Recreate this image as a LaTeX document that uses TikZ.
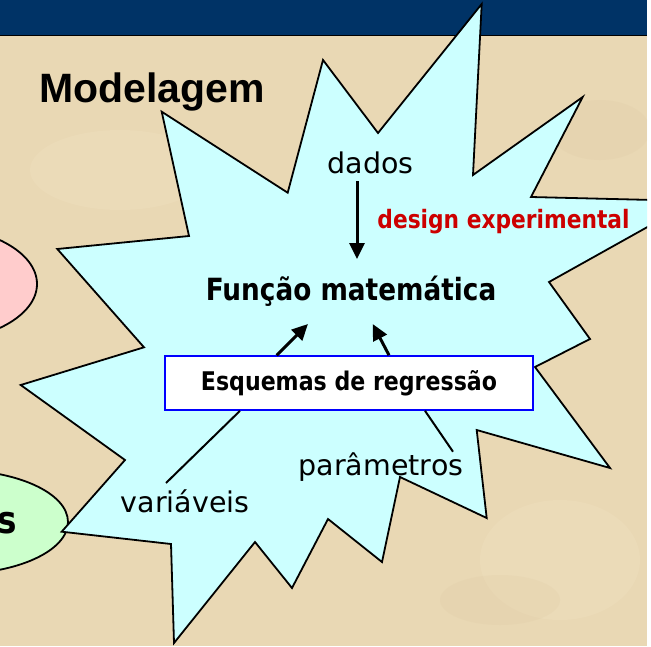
\documentclass[tikz,border=0pt]{standalone}
\usepackage{fontspec}
\setmainfont{DejaVu Sans}
\newfontfamily\tah[FakeStretch=0.86]{DejaVu Sans}
\newfontfamily\arialf{Liberation Sans}
\usetikzlibrary{arrows.meta,calc}
\definecolor{topbar}{HTML}{003366}
\definecolor{parch}{HTML}{E9D8B4}
\definecolor{parchlight}{HTML}{F3E4C4}
\definecolor{parchdark}{HTML}{D8C39C}
\definecolor{burst}{HTML}{CCFFFF}
\definecolor{pinkel}{HTML}{FFCCCC}
\definecolor{greenel}{HTML}{CCFFCC}
\definecolor{redtxt}{HTML}{CC0000}
\definecolor{boxblue}{HTML}{0000FF}
\tikzset{
  outl/.style={draw=black, line width=1.8pt, line join=miter},
  plaintxt/.style={anchor=base, inner sep=0pt, font=\fontsize{28.5}{32}\selectfont},
  boldtxt/.style={anchor=base, inner sep=0pt, font=\tah\bfseries},
  arr/.style={line width=3pt, -{Triangle[length=16pt,width=15pt]}},
  lnk/.style={line width=2pt},
  regbox/.style={draw=boxblue, fill=white, line width=1.6pt, minimum width=368pt, minimum height=54pt, inner sep=0pt, font=\tah\bfseries\fontsize{25.7}{28}\selectfont}
}
\begin{document}
\begin{tikzpicture}[x=1pt,y=-1pt]
\useasboundingbox (0,0) rectangle (651,646);
\fill[white] (0,0) rectangle (651,646);
\begin{scope}
\clip (0,0) rectangle (647,646);
\fill[parch] (0,0) rectangle (647,646);
% very faint parchment mottling
\fill[parchlight, opacity=0.25] (120,170) ellipse [x radius=90pt, y radius=40pt];
\fill[parchlight, opacity=0.25] (560,560) ellipse [x radius=80pt, y radius=60pt];
\fill[parchdark, opacity=0.15] (600,130) ellipse [x radius=50pt, y radius=30pt];
\fill[parchdark, opacity=0.15] (500,600) ellipse [x radius=60pt, y radius=25pt];
\fill[topbar] (0,0) rectangle (647,35);
\draw[black, line width=1pt] (0,35.5) -- (647,35.5);
% side ellipses
\draw[outl, fill=pinkel] (-70,284) ellipse [x radius=107pt, y radius=58pt];
\draw[outl, fill=greenel] (-45,522) ellipse [x radius=113pt, y radius=52pt];
\node[anchor=base east, inner sep=0pt, font=\tah\bfseries\fontsize{38}{40}\selectfont] (sfrag) at (17,533) {s};
% starburst
\draw[outl, fill=burst] (481.7,4) -- (473,175) -- (582.7,97) -- (531,197) -- (694,201)
  -- (549,282) -- (590,339) -- (535,367) -- (610,468) -- (476.7,430) -- (486.7,518)
  -- (400,477) -- (382,562) -- (328,519) -- (292,588) -- (255,542) -- (174,643)
  -- (171,544) -- (61.7,531.7) -- (125,460) -- (20.7,385) -- (144,347.3) -- (57.3,249)
  -- (189,236) -- (161.7,111.7) -- (287.7,192.7) -- (323,60) -- (378,133) -- cycle;
\end{scope}
% title
\node[anchor=base west, inner sep=0pt, font=\arialf\bfseries\fontsize{41}{44}\selectfont] (title) at (39,102) {Modelagem};
% texts
\node[plaintxt] (dados) at (370.5,173) {dados};
\node[boldtxt, text=redtxt, font=\tah\bfseries\fontsize{25.3}{28}\selectfont] (design) at (503.5,228) {design experimental};
\node[boldtxt, font=\tah\bfseries\fontsize{30.6}{34}\selectfont] (func) at (351,300) {Função matemática};
\node[regbox] (box) at (349,383) {Esquemas de regressão};
\node[plaintxt] (par) at (381,475) {parâmetros};
\node[plaintxt] (var) at (185,512.7) {variáveis};
% connectors
\draw[arr] ([xshift=-13.5pt,yshift=-8pt]dados.base) -- ([xshift=6pt,yshift=41pt]func.base);
\draw[arr] ([xshift=-72.3pt]box.north) -- ([xshift=-43pt,yshift=-24pt]func.base);
\draw[arr] ([xshift=40pt]box.north) -- ([xshift=21.7pt,yshift=-24pt]func.base);
\draw[lnk] ([xshift=-109pt]box.south) -- ([xshift=-19pt,yshift=29.7pt]var.base);
\draw[lnk] ([xshift=76pt]box.south) -- ([xshift=72pt,yshift=23.3pt]par.base);
\end{tikzpicture}
\end{document}
